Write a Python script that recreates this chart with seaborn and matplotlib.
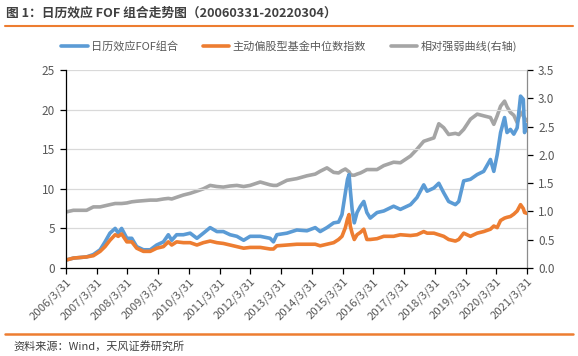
import numpy as np
import pandas as pd
import matplotlib
matplotlib.use("Agg")
import matplotlib.pyplot as plt
import seaborn as sns

# x position in tick units (0 = 2006/3/31 tick, 15 = 2021/3/31 tick / last date)
pos = [0, 0.24, 0.67, 0.89, 1.11, 1.27, 1.43, 1.60, 1.70, 1.81, 1.98, 2.14, 2.30, 2.52, 2.74,
       2.95, 3.17, 3.33, 3.44, 3.60, 3.82, 4.04, 4.26, 4.47, 4.69, 4.91, 5.12, 5.34, 5.56, 5.78,
       5.99, 6.32, 6.64, 6.75, 6.86, 7.19, 7.51,
       7.84, 8.11, 8.27, 8.49, 8.71, 8.87, 8.98, 9.09, 9.16, 9.21, 9.25, 9.31, 9.38, 9.47, 9.58,
       9.69, 9.79, 9.90, 10.12, 10.34, 10.66, 10.88, 11.21, 11.42, 11.64, 11.75, 11.97, 12.13,
       12.29, 12.45, 12.67, 12.78, 12.94, 13.16, 13.38, 13.59, 13.81, 13.92, 14.03, 14.14, 14.27,
       14.35, 14.46, 14.57, 14.68, 14.79, 14.88, 14.92, 15.0]

# 日历效应FOF组合 (left axis)
fof = [1.0, 1.25, 1.4, 1.7, 2.3, 3.3, 4.4, 5.0, 4.4, 5.0, 3.75, 3.75, 2.7, 2.3, 2.3,
       2.9, 3.3, 4.2, 3.5, 4.2, 4.2, 4.4, 3.75, 4.4, 5.1, 4.6, 4.6, 4.2, 4.0, 3.5,
       4.0, 4.0, 3.75, 3.3, 4.2, 4.4, 4.8,
       4.7, 5.1, 4.6, 5.1, 5.7, 5.8, 6.75, 9.5, 11.2, 11.8, 9.9, 7.4, 5.7, 7.0, 7.8,
       8.4, 7.0, 6.3, 7.0, 7.2, 7.8, 7.4, 8.0, 8.9, 10.5, 9.7, 10.1, 10.7,
       9.5, 8.4, 8.0, 8.4, 11.0, 11.2, 11.8, 12.2, 13.7, 12.2, 14.3, 17.1, 19.0,
       17.1, 17.5, 16.9, 17.7, 21.7, 21.3, 17.1, 18.1]

# 主动偏股型基金中位数指数 (left axis)
fund = [1.0, 1.25, 1.4, 1.55, 2.1, 2.7, 3.5, 4.2, 4.0, 4.3, 3.3, 3.3, 2.5, 2.1, 2.1,
        2.5, 2.7, 3.3, 2.9, 3.3, 3.2, 3.2, 2.9, 3.2, 3.4, 3.2, 3.1, 2.9, 2.7, 2.5,
        2.6, 2.6, 2.4, 2.4, 2.8, 2.9, 3.0,
        3.0, 3.0, 2.8, 3.0, 3.2, 3.6, 4.0, 5.1, 6.2, 6.75, 5.3, 4.4, 3.6, 4.2, 4.5,
        4.9, 3.6, 3.6, 3.7, 4.0, 4.0, 4.2, 4.1, 4.2, 4.6, 4.4, 4.4, 4.2,
        4.0, 3.6, 3.4, 3.6, 4.4, 4.0, 4.4, 4.6, 4.9, 5.3, 5.1, 6.0, 6.3,
        6.4, 6.5, 6.8, 7.2, 8.0, 7.5, 7.0, 6.9]

# 相对强弱曲线 (right axis)
rs = [0.99, 1.02, 1.02, 1.08, 1.08, 1.10, 1.12, 1.14, 1.14, 1.14, 1.15, 1.17, 1.18, 1.19, 1.20,
      1.20, 1.22, 1.23, 1.22, 1.25, 1.29, 1.32, 1.36, 1.40, 1.46, 1.44, 1.43, 1.45, 1.46, 1.44,
      1.46, 1.52, 1.47, 1.46, 1.46, 1.55, 1.58,
      1.63, 1.66, 1.71, 1.77, 1.69, 1.68, 1.72, 1.75, 1.72, 1.70, 1.66, 1.64, 1.64, 1.66, 1.68,
      1.71, 1.74, 1.74, 1.74, 1.81, 1.87, 1.86, 1.98, 2.10, 2.24, 2.26, 2.30, 2.55,
      2.48, 2.36, 2.38, 2.36, 2.45, 2.63, 2.72, 2.69, 2.66, 2.54, 2.69, 2.86, 2.95,
      2.85, 2.75, 2.70, 2.57, 2.75, 2.69, 2.65, 2.60]

tick_labels = ["2006/3/31", "2007/3/31", "2008/3/31", "2009/3/31", "2010/3/31", "2011/3/31",
               "2012/3/31", "2013/3/31", "2014/3/31", "2015/3/31", "2016/3/31", "2017/3/31",
               "2018/3/31", "2019/3/31", "2020/3/31", "2021/3/31"]

df = pd.DataFrame({"pos": pos, "fof": fof, "fund": fund, "rs": rs})

sns.set_theme(style="white")
plt.rcParams['font.family'] = ['Noto Sans CJK SC', 'DejaVu Sans']

blue = "#5B9BD5"
orange = "#ED7D31"
grey = "#A5A5A5"
txt = "#595959"

fig = plt.figure(figsize=(5.78, 3.56), dpi=100)
ax = fig.add_axes([66/578, 88/356, 461/578, 198/356])
ax2 = ax.twinx()

sns.lineplot(data=df, x="pos", y="fof", ax=ax, color=blue, lw=2.6, label="日历效应FOF组合", legend=False)
sns.lineplot(data=df, x="pos", y="fund", ax=ax, color=orange, lw=2.6, label="主动偏股型基金中位数指数", legend=False)
sns.lineplot(data=df, x="pos", y="rs", ax=ax2, color=grey, lw=2.6, label="相对强弱曲线(右轴)", legend=False)
ax.set_zorder(ax2.get_zorder() + 1)
ax.patch.set_visible(False)

ax.set_xlim(0, 15)
ax.set_ylim(0, 25)
ax.set_yticks(np.arange(0, 26, 5))
ax2.set_ylim(0, 3.5)
ax2.set_yticks(np.arange(0, 3.51, 0.5))
ax2.set_yticklabels([f"{v:.1f}" for v in np.arange(0, 3.51, 0.5)])
ax.set_xticks(range(len(tick_labels)))
ax.set_xticklabels(tick_labels, rotation=45, ha="right", rotation_mode="anchor")
ax.set_xlabel("")
ax.set_ylabel("")
ax2.set_ylabel("")

ax2.grid(False)
ax.yaxis.grid(True, color="#D9D9D9", lw=0.9)
ax.set_axisbelow(True)
for a in (ax, ax2):
    a.spines["top"].set_visible(False)
ax.spines["left"].set_color("#000000")
ax.spines["bottom"].set_color("#000000")
ax.spines["right"].set_visible(False)
ax2.spines["left"].set_visible(False)
ax2.spines["bottom"].set_visible(False)
ax2.spines["right"].set_color("#8C8C8C")
for s in ("left", "bottom"):
    ax.spines[s].set_linewidth(0.9)
ax2.spines["right"].set_linewidth(0.9)

ax.tick_params(axis="y", direction="out", length=4, width=0.9, color="#000000", labelsize=8.5, labelcolor=txt, left=True, pad=4)
ax.tick_params(axis="x", direction="out", length=4, width=0.9, color="#000000", labelsize=8.2, labelcolor=txt, bottom=True, pad=2)
ax2.tick_params(axis="y", direction="out", length=4, width=0.9, color="#000000", labelsize=8.5, labelcolor=txt, right=True, pad=4)

h1, l1 = ax.get_legend_handles_labels()
h2, l2 = ax2.get_legend_handles_labels()
fig.legend(h1 + h2, l1 + l2, loc="center", bbox_to_anchor=(0.5, 1 - 46/356), ncol=3, frameon=False,
           fontsize=8, labelcolor=txt, handlelength=2.4, columnspacing=2.2, handletextpad=0.3)

fig.text(6/578, 1 - 13/356, "图 1：日历效应 FOF 组合走势图（20060331-20220304）", fontsize=9.2,
         fontweight="bold", color="#404040", va="center", ha="left")
fig.add_artist(plt.Line2D([5/578, 573/578], [1 - 26/356, 1 - 26/356], color=orange, lw=1.5))
fig.add_artist(plt.Line2D([5/578, 573/578], [1 - 334/356, 1 - 334/356], color=orange, lw=1.8))
fig.text(13/578, 1 - 346/356, "资料来源：Wind，天风证券研究所", fontsize=8, color="#404040", va="center", ha="left")

fig.savefig("out.png", dpi=100)
